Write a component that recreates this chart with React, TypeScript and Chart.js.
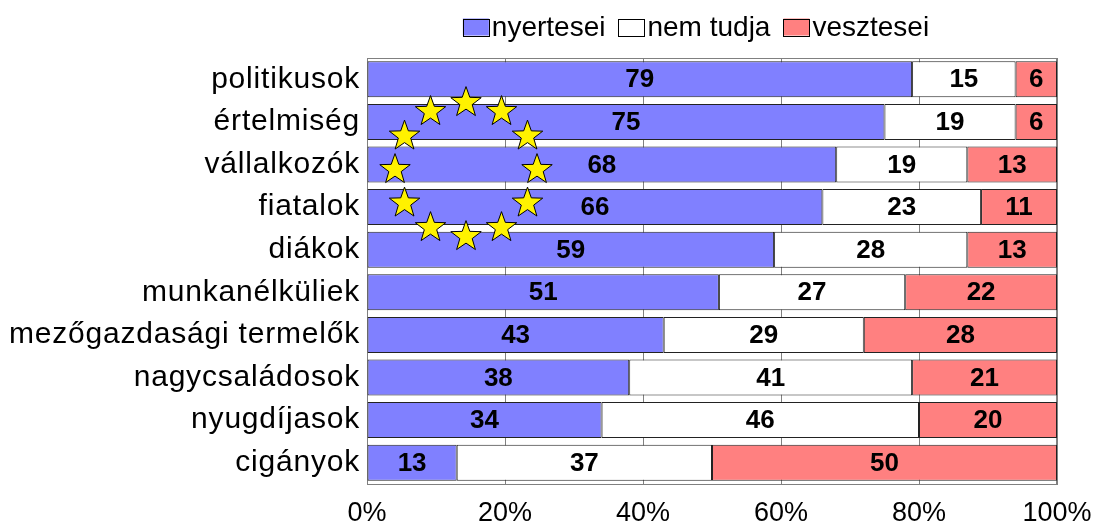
import React, { useEffect, useRef } from "react";
import { Chart, registerables } from "chart.js";

Chart.register(...registerables);

const categories = [
  "politikusok",
  "értelmiség",
  "vállalkozók",
  "fiatalok",
  "diákok",
  "munkanélküliek",
  "mezőgazdasági termelők",
  "nagycsaládosok",
  "nyugdíjasok",
  "cigányok",
];
const nyertesei = [79, 75, 68, 66, 59, 51, 43, 38, 34, 13];
const nemTudja = [15, 19, 19, 23, 28, 27, 29, 41, 46, 37];
const vesztesei = [6, 6, 13, 11, 13, 22, 28, 21, 20, 50];
const seriesNames = ["nyertesei", "nem tudja", "vesztesei"];
const seriesColors = ["#8080FF", "#FFFFFF", "#FF8080"];
const xTickStep = 20;

const FONT = "'Liberation Sans', Arial, sans-serif";

function drawStar(ctx: CanvasRenderingContext2D, cx: number, cy: number, R: number, r: number) {
  ctx.beginPath();
  for (let i = 0; i < 10; i++) {
    const ang = -Math.PI / 2 + (i * Math.PI) / 5;
    const rad = i % 2 === 0 ? R : r;
    const px = cx + rad * Math.cos(ang);
    const py = cy + rad * Math.sin(ang);
    if (i === 0) ctx.moveTo(px, py);
    else ctx.lineTo(px, py);
  }
  ctx.closePath();
  ctx.fill();
  ctx.stroke();
}

const framePlugin = {
  id: "frame",
  beforeDraw(chart: any) {
    const ys = chart.scales.y;
    if (ys && !ys.__wrapped) {
      const orig = ys.drawLabels;
      ys.drawLabels = function (area: any) {
        const c = chart.ctx;
        c.save();
        (c as any).letterSpacing = "0.8px";
        orig.call(this, area);
        c.restore();
      };
      ys.__wrapped = true;
    }
  },
  beforeDatasetsDraw(chart: any) {
    const { ctx, chartArea } = chart;
    ctx.save();
    ctx.strokeStyle = "#808080";
    ctx.lineWidth = 1;
    ctx.strokeRect(chartArea.left + 0.5, chartArea.top + 0.5, chartArea.right - chartArea.left - 1, chartArea.bottom - chartArea.top);
    ctx.restore();
  },
};

const starsPlugin = {
  id: "euStars",
  afterDatasetsDraw(chart: any) {
    const { ctx } = chart;
    const xs = chart.scales.x;
    const ys = chart.scales.y;
    const cx = xs.getPixelForValue(14.35);
    const cy = ys.getPixelForValue(2.12);
    const rx = 71;
    const ry = 67;
    ctx.save();
    ctx.fillStyle = "#FFF200";
    ctx.strokeStyle = "#000000";
    ctx.lineWidth = 1;
    ctx.lineJoin = "miter";
    for (let i = 0; i < 12; i++) {
      const a = -Math.PI / 2 + (i * Math.PI) / 6;
      drawStar(ctx, cx + rx * Math.cos(a), cy + ry * Math.sin(a), 16, 6.5);
    }
    ctx.restore();
  },
};

const labelsPlugin = {
  id: "barLabels",
  afterDatasetsDraw(chart: any) {
    const { ctx } = chart;
    ctx.save();
    ctx.font = `bold 26px ${FONT}`;
    ctx.fillStyle = "#000";
    ctx.textAlign = "center";
    ctx.textBaseline = "middle";
    chart.data.datasets.forEach((ds: any, di: number) => {
      const meta = chart.getDatasetMeta(di);
      meta.data.forEach((el: any, i: number) => {
        const p = el.getProps(["x", "y", "base"], true);
        const cx = (p.x + p.base) / 2;
        ctx.fillText(String(ds.data[i]), cx, p.y + 1);
      });
    });
    ctx.restore();
  },
};

const legendPlugin = {
  id: "customLegend",
  afterDraw(chart: any) {
    const { ctx } = chart;
    ctx.save();
    ctx.font = `28px ${FONT}`;
    ctx.textBaseline = "middle";
    ctx.textAlign = "left";
    const boxW = 26;
    const boxH = 17;
    const gapBox = 3;
    const gapItem = 13;
    const items = chart.data.datasets.map((ds: any) => ({
      label: ds.label,
      color: ds.backgroundColor,
      w: ctx.measureText(ds.label).width,
    }));
    const total = items.reduce((s: number, it: any) => s + boxW + gapBox + it.w, 0) + gapItem * (items.length - 1);
    let x = 696 - total / 2;
    const cy = 27;
    items.forEach((it: any) => {
      ctx.fillStyle = it.color;
      ctx.fillRect(x, cy - boxH / 2, boxW, boxH);
      ctx.strokeStyle = "#000";
      ctx.lineWidth = 1;
      ctx.strokeRect(Math.round(x) + 0.5, Math.round(cy - boxH / 2) + 0.5, boxW, boxH);
      ctx.fillStyle = "#000";
      ctx.fillText(it.label, x + boxW + gapBox, cy + 1);
      x += boxW + gapBox + it.w + gapItem;
    });
    ctx.restore();
  },
};

export default function App() {
  const ref = useRef<HTMLCanvasElement | null>(null);
  useEffect(() => {
    if (!ref.current) return;
    const seriesData = [nyertesei, nemTudja, vesztesei];
    const chart = new Chart(ref.current, {
      type: "bar",
      data: {
        labels: categories,
        datasets: seriesNames.map((name, i) => ({
          label: name,
          data: seriesData[i],
          backgroundColor: seriesColors[i],
          borderColor: "#222222",
          borderWidth: 1,
          borderSkipped: false,
          categoryPercentage: 1,
          barPercentage: 0.845,
        })),
      },
      options: {
        indexAxis: "y",
        responsive: false,
        animation: false,
        layout: { padding: { top: 58, right: 36, left: 0, bottom: 0 } },
        plugins: {
          legend: { display: false },
          tooltip: { enabled: false },
          title: { display: false },
        },
        scales: {
          x: {
            stacked: true,
            min: 0,
            max: 100,
            ticks: {
              stepSize: xTickStep,
              callback: (v: any) => `${v}%`,
              font: { family: FONT, size: 27 },
              color: "#000",
              padding: 13,
              maxRotation: 0,
            },
            grid: { color: "#808080", drawTicks: false },
            border: { color: "#808080" },
            afterFit: (s: any) => {
              s.height = 39;
              s.paddingLeft = 0;
              s.paddingRight = 0;
            },
          },
          y: {
            stacked: true,
            ticks: {
              font: { family: FONT, size: 30 },
              color: "#000",
              padding: 7,
              autoSkip: false,
            },
            grid: { display: false, drawTicks: false },
            border: { color: "#808080" },
            afterFit: (s: any) => {
              s.width = 367;
            },
          },
        },
      },
      plugins: [framePlugin, starsPlugin, labelsPlugin, legendPlugin],
    } as any);
    return () => chart.destroy();
  }, []);
  return (
    <div style={{ position: "absolute", left: 0, top: 0, width: 1093, height: 523, background: "#fff" }}>
      <canvas ref={ref} width={1093} height={523} style={{ display: "block" }} />
    </div>
  );
}
